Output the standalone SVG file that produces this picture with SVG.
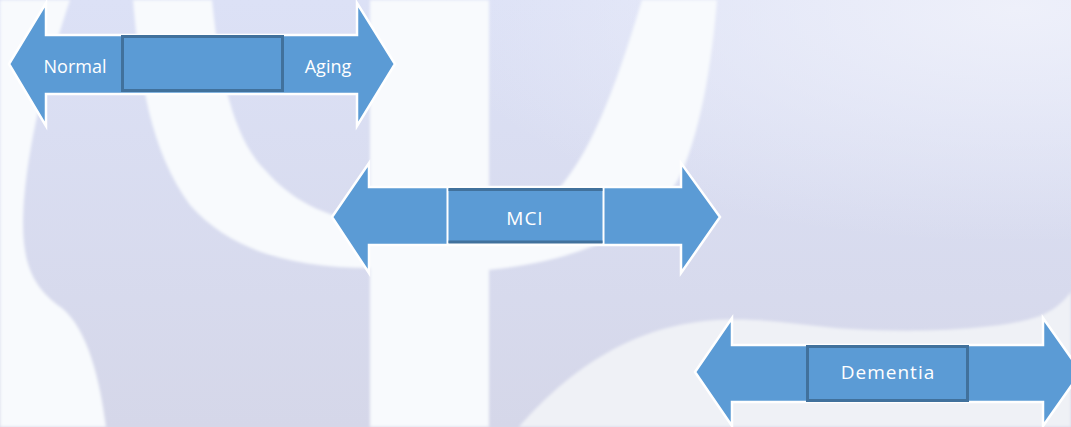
<svg xmlns="http://www.w3.org/2000/svg" width="1071" height="427" viewBox="0 0 1071 427">
  <defs>
    <linearGradient id="bg" x1="0" y1="0" x2="0" y2="1">
      <stop offset="0" stop-color="#DCE1F6"/>
      <stop offset="1" stop-color="#D5D7E9"/>
    </linearGradient>
    <radialGradient id="glow" cx="0.95" cy="0.02" r="0.55">
      <stop offset="0" stop-color="#EEF0FA"/>
      <stop offset="1" stop-color="#EEF0FA" stop-opacity="0"/>
    </radialGradient>
    <filter id="soft" x="-5%" y="-5%" width="110%" height="110%">
      <feGaussianBlur stdDeviation="1.5"/>
    </filter>
    <style>
      .band { fill: #F8FAFD; }
      .arrow { fill: #5B9BD5; stroke: #FFFFFF; stroke-width: 2.5; stroke-linejoin: miter; }
      .box { fill: #5B9BD5; stroke: #41719C; stroke-width: 3; }
      .lbl { fill: #FFFFFF; font-family: "Open Sans", "Noto Sans", sans-serif; text-anchor: middle; }
    </style>
  </defs>

  <!-- background -->
  <rect x="0" y="0" width="1071" height="427" fill="url(#bg)"/>
  <rect x="0" y="0" width="1071" height="427" fill="url(#glow)"/>
  <g filter="url(#soft)">
    <path class="band" d="M0,0 L70,0 C50,60 30,130 24,200 C20,255 28,285 62,308 C88,330 100,380 106,427 L0,427 Z"/>
    <rect class="band" x="370" y="0" width="119" height="427"/>
    <path class="band" d="M133,0 L212,0 C220,80 235,140 265,170 C295,205 335,220 372,222 L372,268 C290,268 230,250 190,205 C150,150 140,80 133,0 Z"/>
    <path class="band" d="M642,0 L717,0 C712,60 702,125 682,172 C655,230 575,262 488,270 L488,228 C520,220 545,205 562,185 C590,150 612,100 642,0 Z"/>
    <path fill="#EFF1F6" d="M519,427 C560,380 620,330 705,321 C760,316 800,326 850,329 C920,333 1000,330 1040,316 C1055,310 1065,300 1071,292 L1071,427 Z"/>
  </g>

  <!-- connectors (double arrows) -->
  <g id="connectors">
    <polygon class="arrow" points="9,64 46,3 46,35 357,35 357,3 395,64 357,126 357,94 46,94 46,126"/>
    <polygon class="arrow" points="332,217 369,163 369,187 681,187 681,163 720,217 681,273 681,245 369,245 369,273"/>
    <polygon class="arrow" points="695,372 732,318 732,345 1043,345 1043,318 1081,372 1043,426 1043,402 732,402 732,426"/>
  </g>

  <!-- nodes -->
  <g id="node-normal-aging">
    <rect class="box" x="122.5" y="36.5" width="160" height="54"/>
    <text class="lbl" x="75" y="72.5" font-size="18">Normal</text>
    <text class="lbl" x="328" y="72.5" font-size="18">Aging</text>
  </g>
  <g id="node-mci">
    <rect x="447.5" y="187.5" width="156" height="56.5" fill="#5B9BD5" stroke="#FFFFFF" stroke-width="2"/>
    <line x1="448.5" y1="189.5" x2="602.5" y2="189.5" stroke="#41719C" stroke-width="3"/>
    <line x1="448.5" y1="242" x2="602.5" y2="242" stroke="#41719C" stroke-width="3"/>
    <text class="lbl" x="525" y="225" font-size="19" letter-spacing="1">MCI</text>
  </g>
  <g id="node-dementia">
    <rect class="box" x="807.5" y="346.5" width="160" height="54"/>
    <text class="lbl" x="888" y="379" font-size="19" letter-spacing="1">Dementia</text>
  </g>
</svg>
